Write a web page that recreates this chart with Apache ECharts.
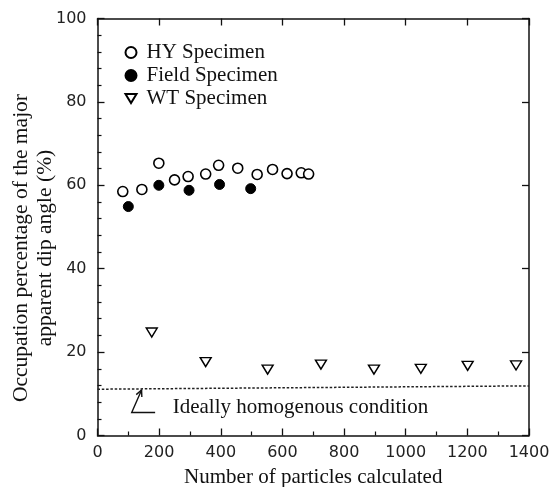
<!DOCTYPE html>
<html><head><meta charset="utf-8">
<script src="https://cdn.jsdelivr.net/npm/echarts@6/dist/echarts.min.js"></script>
<style>html,body{margin:0;padding:0;background:#fff}#c{width:552px;height:487px}</style>
</head><body><div id="c"></div>
<script>
// Data
const hyX = [82, 144, 199, 250, 294, 351, 393, 455, 518, 568, 615, 661, 685];
const hyY = [58.5, 59.0, 65.3, 61.3, 62.1, 62.7, 64.8, 64.1, 62.6, 63.8, 62.8, 63.0, 62.7];
const fieldX = [100, 199, 297, 396, 497];
const fieldY = [54.9, 60.0, 58.8, 60.2, 59.2];
const wtX = [176, 351, 552, 725, 897, 1049, 1201, 1358];
const wtY = [24.7, 17.6, 15.8, 17.0, 15.8, 16.0, 16.7, 16.8];
const idealX = [0, 1400];
const idealY = [11.1, 11.9];
const xTicks = [0, 200, 400, 600, 800, 1000, 1200, 1400];
const yTicks = [0, 20, 40, 60, 80, 100];
const seriesNames = ['HY Specimen', 'Field Specimen', 'WT Specimen'];
const annotation = 'Ideally homogenous condition';
const xTitle = 'Number of particles calculated';
const yTitle = 'Occupation percentage of the major\napparent dip angle (%)';

const zip = (a, b) => a.map((v, i) => [v, b[i]]);
const serif = 'Liberation Serif';
const sans = 'DejaVu Sans';
const chart = echarts.init(document.getElementById('c'), null, {renderer: 'canvas'});

const axisLine = {show: true, onZero: false, lineStyle: {color: '#111', width: 1.5}};
const tick = {show: true, inside: true, length: 7, lineStyle: {color: '#111', width: 1.3}};
const option = {
  animation: false,
  backgroundColor: '#fff',
  grid: {left: 97.5, right: 23, top: 18.5, bottom: 51.5, containLabel: false, outerBoundsMode: 'none'},
  legend: {
    orient: 'vertical', left: 124.5, top: 42, padding: 0,
    itemWidth: 11, itemHeight: 11, itemGap: 2,
    data: [
      {name: seriesNames[0], icon: 'circle'},
      {name: seriesNames[1], icon: 'circle'},
      {name: seriesNames[2], icon: 'path://M0,0L11,0L5.5,9Z'}
    ],
    textStyle: {fontFamily: serif, fontSize: 21, color: '#111', lineHeight: 21, padding: [0, 0, 0, 5]}
  },
  xAxis: [{
    type: 'value', min: xTicks[0], max: xTicks[xTicks.length - 1], interval: 200,
    axisLine: axisLine, axisTick: tick,
    minorTick: {show: true, splitNumber: 2, length: 4, lineStyle: {color: '#111', width: 1.2}},
    splitLine: {show: false},
    axisLabel: {margin: 9, fontFamily: sans, fontSize: 16, color: '#222', formatter: v => String(v)},
    name: xTitle, nameLocation: 'middle', nameGap: 31,
    nameTextStyle: {fontFamily: serif, fontSize: 21, color: '#111'}
  }, {
    type: 'value', position: 'top', min: xTicks[0], max: xTicks[xTicks.length - 1], interval: 200,
    axisLine: axisLine, axisTick: tick,
    axisLabel: {show: false}, splitLine: {show: false}
  }],
  yAxis: [{
    type: 'value', min: yTicks[0], max: yTicks[yTicks.length - 1], interval: 20,
    axisLine: axisLine, axisTick: tick,
    minorTick: {show: true, splitNumber: 5, length: 4, lineStyle: {color: '#111', width: 1.2}},
    splitLine: {show: false},
    axisLabel: {margin: 11, fontFamily: sans, fontSize: 16, color: '#222', formatter: v => String(v)}
  }, {
    type: 'value', position: 'right', min: yTicks[0], max: yTicks[yTicks.length - 1], interval: 20,
    axisLine: axisLine, axisTick: tick,
    axisLabel: {show: false}, splitLine: {show: false}
  }],
  series: [{
    name: seriesNames[0], type: 'scatter', data: zip(hyX, hyY),
    symbol: 'circle', symbolSize: 10,
    itemStyle: {color: '#fff', borderColor: '#000', borderWidth: 1.6, opacity: 1}
  }, {
    name: seriesNames[1], type: 'scatter', data: zip(fieldX, fieldY),
    symbol: 'circle', symbolSize: 10,
    itemStyle: {color: '#000', borderColor: '#000', borderWidth: 1, opacity: 1}
  }, {
    name: seriesNames[2], type: 'scatter', data: zip(wtX, wtY),
    symbol: 'triangle', symbolSize: [11, 9], symbolRotate: 180,
    itemStyle: {color: '#fff', borderColor: '#000', borderWidth: 1.4, opacity: 1}
  }, {
    name: 'ideal', type: 'line', data: zip(idealX, idealY), symbol: 'none',
    lineStyle: {color: '#222', width: 1.5, type: [2.5, 1.8]}, z: 1
  }]
};
chart.setOption(option);

// Annotation (arrow + label) anchored in data coordinates
const p = (x, y) => chart.convertToPixel({xAxisIndex: 0, yAxisIndex: 0}, [x, y]);
const tip = p(143, 10.9), elbow = p(111, 5.5), end = p(187, 5.5), txt = p(244, 6.8);
const ang = Math.atan2(tip[1] - elbow[1], tip[0] - elbow[0]);
const ah = 7, spread = 0.45;
const a1 = [tip[0] - ah * Math.cos(ang - spread), tip[1] - ah * Math.sin(ang - spread)];
const a2 = [tip[0] - ah * Math.cos(ang + spread), tip[1] - ah * Math.sin(ang + spread)];
chart.setOption({
  graphic: [
    {type: 'polyline', shape: {points: [end, elbow, tip]}, style: {stroke: '#111', lineWidth: 1.4, fill: null}},
    {type: 'polyline', shape: {points: [a1, tip, a2]}, style: {stroke: '#111', lineWidth: 1.4, fill: null}},
    {type: 'text', x: txt[0], y: txt[1], style: {text: annotation, font: '21px "Liberation Serif"', fill: '#111', verticalAlign: 'middle', align: 'left'}},
    {type: 'text', x: 33, y: 248, rotation: Math.PI / 2,
     style: {text: yTitle, font: '21.5px "Liberation Serif"', fill: '#111', align: 'center', verticalAlign: 'middle', lineHeight: 24}}
  ]
});
</script></body></html>
